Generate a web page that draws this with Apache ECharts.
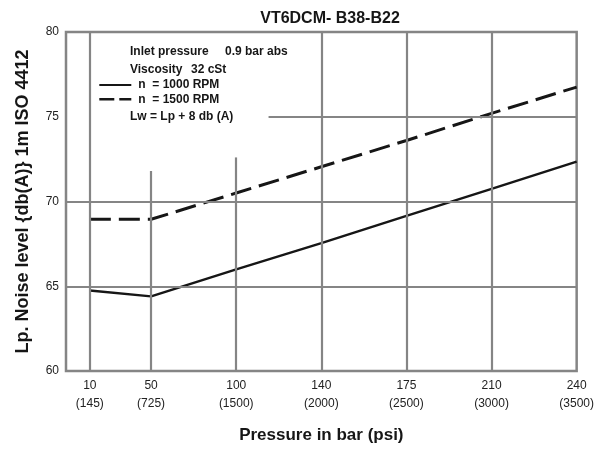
<!DOCTYPE html>
<html>
<head>
<meta charset="utf-8">
<script src="https://cdn.jsdelivr.net/npm/echarts@6/dist/echarts.min.js"></script>
<style>
html,body{margin:0;padding:0;background:#fff;}
#chart{width:597px;height:449px;}
</style>
</head>
<body>
<div id="chart"></div>
<script>
// ---- data ----
var pressureBar = [10, 50, 100, 140, 175, 210, 240];
var pressurePsi = [145, 725, 1500, 2000, 2500, 3000, 3500];
var rpm1000 = [64.75, 64.4, 66.0, 67.55, 69.15, 70.75, 72.35];
var rpm1500 = [68.95, 68.95, 70.5, 72.05, 73.6, 75.2, 76.75];
var yTicks = [60, 65, 70, 75, 80];
var seriesNames = ['n  = 1000 RPM', 'n  = 1500 RPM'];
var titleText = 'VT6DCM- B38-B22';
var notes = ['Inlet pressure', '0.9 bar abs', 'Viscosity', '32 cSt', 'Lw = Lp + 8 db (A)'];

// ---- layout of the (non-linear) pressure axis: slot of each tick ----
var xSlot = [0, 0.72, 1.72, 2.72, 3.72, 4.72, 5.72];
var xMin = -0.28, xMax = 5.72;
// gridline extents (the legend block interrupts some lines)
var vGridTop = [80, 71.8, 72.6, 80, 80, 80]; // for ticks 10..210
var hGrid = [[65, xMin], [70, xMin], [75, 2.1]];

function pts(vals){ return vals.map(function(v,i){ return [xSlot[i], v]; }); }

var gridLines = [];
for (var i = 0; i < vGridTop.length; i++) {
  gridLines.push([{coord:[xSlot[i], 60]}, {coord:[xSlot[i], vGridTop[i]]}]);
}
hGrid.forEach(function(h){
  gridLines.push([{coord:[h[1], h[0]]}, {coord:[xMax, h[0]]}]);
});

var FONT = '"Liberation Sans", Arial, Helvetica, sans-serif';
var INK = '#161616';
var GRID = '#858585';

var chart = echarts.init(document.getElementById('chart'), null, {renderer:'canvas'});
chart.setOption({
  animation: false,
  backgroundColor: '#fff',
  title: {
    text: titleText, left: 325, top: 6, textAlign: 'center',
    textStyle: {fontFamily: FONT, fontSize: 16, fontWeight: 'bold', color: INK}
  },
  grid: {left: 66, right: 20, top: 32, bottom: 75, show: true,
         borderColor: GRID, borderWidth: 2.5, backgroundColor: 'transparent'},
  legend: {
    data: [
      {name: seriesNames[0], itemStyle: {opacity: 0}, lineStyle: {type: 'solid', width: 2.2, color: INK}},
      {name: seriesNames[1], itemStyle: {opacity: 0}, lineStyle: {type: [15, 5], width: 2.6, color: INK}}
    ],
    orient: 'vertical', left: 98, top: 79, padding: 0, itemGap: 2.3,
    itemWidth: 32, itemHeight: 12,
    textStyle: {fontFamily: FONT, fontSize: 12, fontWeight: 'bold', color: INK, padding: [0,0,0,2]}
  },
  graphic: [
    {type:'text', left:130, top:46, style:{text:notes[0], font:'bold 12px ' + FONT, fill:INK}},
    {type:'text', left:225, top:46, style:{text:notes[1], font:'bold 12px ' + FONT, fill:INK}},
    {type:'text', left:130, top:63.5, style:{text:notes[2], font:'bold 12px ' + FONT, fill:INK}},
    {type:'text', left:191, top:63.5, style:{text:notes[3], font:'bold 12px ' + FONT, fill:INK}},
    {type:'text', left:130, top:110.5, style:{text:notes[4], font:'bold 12px ' + FONT, fill:INK}}
  ],
  xAxis: {
    type: 'value', min: xMin, max: xMax,
    name: 'Pressure in bar (psi)', nameLocation: 'middle', nameGap: 56,
    nameTextStyle: {fontFamily: FONT, fontSize: 17, fontWeight: 'bold', color: INK},
    axisLine: {show: false}, axisTick: {show: false}, splitLine: {show: false},
    axisLabel: {
      customValues: xSlot, margin: 5, fontFamily: FONT, fontSize: 12, color: '#222', lineHeight: 18.5,
      formatter: function(v){
        var best = 0;
        for (var k = 0; k < xSlot.length; k++) if (Math.abs(xSlot[k]-v) < Math.abs(xSlot[best]-v)) best = k;
        return pressureBar[best] + '\n(' + pressurePsi[best] + ')';
      }
    }
  },
  yAxis: {
    type: 'value', min: yTicks[0], max: yTicks[yTicks.length-1], interval: 5,
    name: 'Lp. Noise level {db(A)} 1m ISO 4412', nameLocation: 'middle', nameGap: 34,
    nameTextStyle: {fontFamily: FONT, fontSize: 18, fontWeight: 'bold', color: INK},
    axisLine: {show: false}, axisTick: {show: false}, splitLine: {show: false},
    axisLabel: {margin: 7, fontFamily: FONT, fontSize: 12, color: '#222'}
  },
  series: [
    {
      type: 'line', name: 'grid', data: [], z: 1, silent: true,
      markLine: {silent: true, symbol: 'none', label: {show: false},
                 lineStyle: {color: GRID, width: 2.2, type: 'solid'},
                 emphasis: {disabled: true}, data: gridLines}
    },
    {
      type: 'line', name: seriesNames[0], data: pts(rpm1000), z: 3,
      symbol: 'none', lineStyle: {color: INK, width: 2.4, type: 'solid'}, itemStyle: {color: INK}
    },
    {
      type: 'line', name: seriesNames[1], data: pts(rpm1500), z: 3,
      symbol: 'none', lineStyle: {color: INK, width: 3, type: [21, 8]}, itemStyle: {color: INK}
    }
  ]
});
</script>
</body>
</html>
